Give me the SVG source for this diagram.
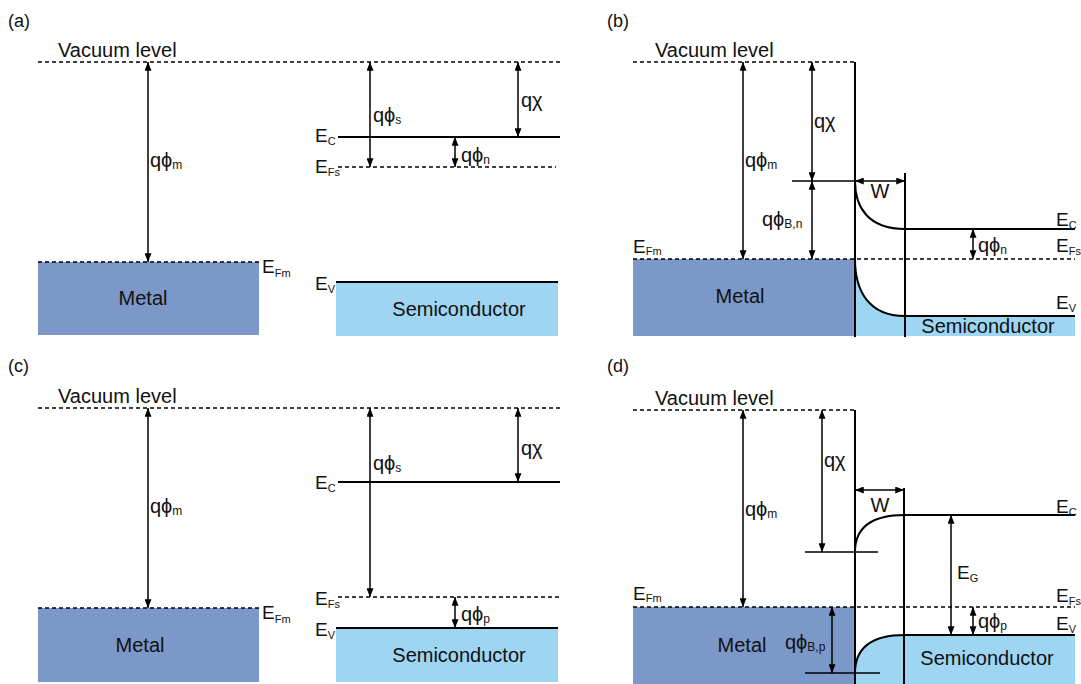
<svg xmlns="http://www.w3.org/2000/svg" width="1081" height="684" viewBox="0 0 1081 684">
<defs>
<style>
.dash{stroke:#000;stroke-width:1.3;stroke-dasharray:4 3;fill:none}
.band{stroke:#000;stroke-width:2;fill:none}
.thin{stroke:#000;stroke-width:1.5;fill:none}
.arr{stroke:#000;stroke-width:1.5;fill:none;marker-start:url(#ah);marker-end:url(#ah)}
.metal{fill:#7b98c9}
.semi{fill:#9dd5f2}
text{font-family:"Liberation Sans",Arial,"DejaVu Sans",sans-serif;font-size:20px;fill:#111}
.lbl{font-size:18px}
.e{font-size:19px}
.s{font-size:11px}
.q .s{font-size:12px}
.m{text-anchor:middle}
</style>
<marker id="ah" viewBox="0 0 10 8" refX="10" refY="4" markerWidth="9" markerHeight="7" markerUnits="userSpaceOnUse" orient="auto-start-reverse">
<path d="M0,0 L10,4 L0,8 z" fill="#000"/>
</marker>
</defs>
<rect width="1081" height="684" fill="#fff"/>

<g id="panel-a">
<text class="lbl" x="8" y="27">(a)</text>
<text x="58" y="57">Vacuum level</text>
<rect class="metal" x="38" y="262" width="221" height="73"/>
<rect class="semi" x="336" y="282" width="222" height="54"/>
<path class="dash" d="M38,62 H560"/>
<path class="dash" d="M38,262 H259"/>
<path class="band" d="M338,137 H560"/>
<path class="dash" d="M338,167 H556"/>
<path class="band" d="M336,282 H558"/>
<text x="143" y="305" class="m">Metal</text>
<text x="459" y="316" class="m">Semiconductor</text>
<text class="q" x="150" y="167">qϕ<tspan class="s" dy="2">m</tspan></text>
<text class="e" x="262" y="273">E<tspan class="s" dy="4">Fm</tspan></text>
<text class="e" x="315" y="142">E<tspan class="s" dy="3">C</tspan></text>
<text class="e" x="315" y="173">E<tspan class="s" dy="3">Fs</tspan></text>
<text class="e" x="315" y="290">E<tspan class="s" dy="3">V</tspan></text>
<text class="q" x="373" y="122">qϕ<tspan class="s" dy="2">s</tspan></text>
<text x="521" y="107">qχ</text>
<text class="q" x="461" y="162">qϕ<tspan class="s" dy="2">n</tspan></text>
</g>

<g id="panel-b">
<text class="lbl" x="607" y="27">(b)</text>
<text x="655" y="57">Vacuum level</text>
<rect class="metal" x="633" y="259" width="222" height="77"/>
<path class="semi" d="M855,259 C855,290 868,316 905,316 H1075 V336 H855 Z"/>
<path class="dash" d="M633,62 H855"/>
<path class="dash" d="M633,259 H1075"/>
<path class="band" d="M855,62 V337"/>
<path class="band" d="M905,173 V337"/>
<path class="thin" d="M792,181 H855"/>
<path class="band" d="M855,181 C855,207 868,229 905,229 H1075"/>
<path class="band" d="M855,259 C855,290 868,316 905,316 H1075"/>
<text x="740" y="303" class="m">Metal</text>
<text x="988" y="333" class="m">Semiconductor</text>
<text class="q" x="745" y="167">qϕ<tspan class="s" dy="2">m</tspan></text>
<text x="814" y="128">qχ</text>
<text class="q" x="762" y="226">qϕ<tspan class="s" dy="2">B,n</tspan></text>
<text x="880" y="198" class="m">W</text>
<text class="e" x="633" y="253">E<tspan class="s" dy="2">Fm</tspan></text>
<text class="e" x="1056" y="226">E<tspan class="s" dy="3">C</tspan></text>
<text class="e" x="1056" y="252">E<tspan class="s" dy="3">Fs</tspan></text>
<text class="e" x="1056" y="309">E<tspan class="s" dy="3">V</tspan></text>
<text class="q" x="978" y="252">qϕ<tspan class="s" dy="2">n</tspan></text>
</g>

<g id="panel-c">
<text class="lbl" x="8" y="372">(c)</text>
<text x="58" y="403">Vacuum level</text>
<rect class="metal" x="38" y="608" width="221" height="74"/>
<rect class="semi" x="336" y="628" width="222" height="54"/>
<path class="dash" d="M38,408 H560"/>
<path class="dash" d="M38,608 H259"/>
<path class="band" d="M338,482 H560"/>
<path class="dash" d="M338,597 H560"/>
<path class="band" d="M336,628 H558"/>
<text x="140" y="652" class="m">Metal</text>
<text x="459" y="662" class="m">Semiconductor</text>
<text class="q" x="150" y="513">qϕ<tspan class="s" dy="2">m</tspan></text>
<text class="e" x="262" y="619">E<tspan class="s" dy="4">Fm</tspan></text>
<text class="e" x="315" y="489">E<tspan class="s" dy="3">C</tspan></text>
<text class="e" x="315" y="605">E<tspan class="s" dy="3">Fs</tspan></text>
<text class="e" x="315" y="636">E<tspan class="s" dy="3">V</tspan></text>
<text class="q" x="373" y="470">qϕ<tspan class="s" dy="2">s</tspan></text>
<text x="521" y="455">qχ</text>
<text class="q" x="461" y="621">qϕ<tspan class="s" dy="2">p</tspan></text>
</g>

<g id="panel-d">
<text class="lbl" x="607" y="372">(d)</text>
<text x="655" y="405">Vacuum level</text>
<rect class="metal" x="633" y="607" width="222" height="77"/>
<path class="semi" d="M855,673 C855,648 868,635 905,635 H1075 V684 H855 Z"/>
<path class="dash" d="M633,410 H855"/>
<path class="dash" d="M633,607 H1075"/>
<path class="band" d="M855,410 V684"/>
<path class="band" d="M904,488 V684"/>
<path class="thin" d="M805,552 H878"/>
<path class="thin" d="M805,673 H880"/>
<path class="band" d="M855,552 C855,530 868,515 905,515 H1075"/>
<path class="band" d="M855,673 C855,650 868,635 905,635 H1075"/>
<text x="742" y="652" class="m">Metal</text>
<text x="987" y="665" class="m">Semiconductor</text>
<text class="q" x="745" y="516">qϕ<tspan class="s" dy="2">m</tspan></text>
<text x="824" y="467">qχ</text>
<text x="880" y="512" class="m">W</text>
<text class="e" x="633" y="600">E<tspan class="s" dy="2">Fm</tspan></text>
<text class="q" x="785" y="649">qϕ<tspan class="s" dy="2">B,p</tspan></text>
<text class="e" x="1056" y="513">E<tspan class="s" dy="3">C</tspan></text>
<text class="e" x="957" y="579">E<tspan class="s" dy="3">G</tspan></text>
<text class="e" x="1056" y="602">E<tspan class="s" dy="3">Fs</tspan></text>
<text class="e" x="1056" y="630">E<tspan class="s" dy="3">V</tspan></text>
<text class="q" x="978" y="628">qϕ<tspan class="s" dy="2">p</tspan></text>
</g>

<g id="connectors">
<path class="arr" d="M148,62 V262"/>
<path class="arr" d="M370,62 V167"/>
<path class="arr" d="M518,62 V137"/>
<path class="arr" d="M455,137 V167"/>
<path class="arr" d="M743,62 V259"/>
<path class="arr" d="M812,62 V181"/>
<path class="arr" d="M812,181 V259"/>
<path class="arr" d="M855,181 H905"/>
<path class="arr" d="M973,229 V259"/>
<path class="arr" d="M148,408 V608"/>
<path class="arr" d="M370,408 V597"/>
<path class="arr" d="M518,408 V482"/>
<path class="arr" d="M455,597 V628"/>
<path class="arr" d="M743,410 V607"/>
<path class="arr" d="M822,410 V552"/>
<path class="arr" d="M855,490 H904"/>
<path class="arr" d="M951,515 V635"/>
<path class="arr" d="M973,607 V635"/>
<path class="arr" d="M832,607 V673"/>
</g>
</svg>
